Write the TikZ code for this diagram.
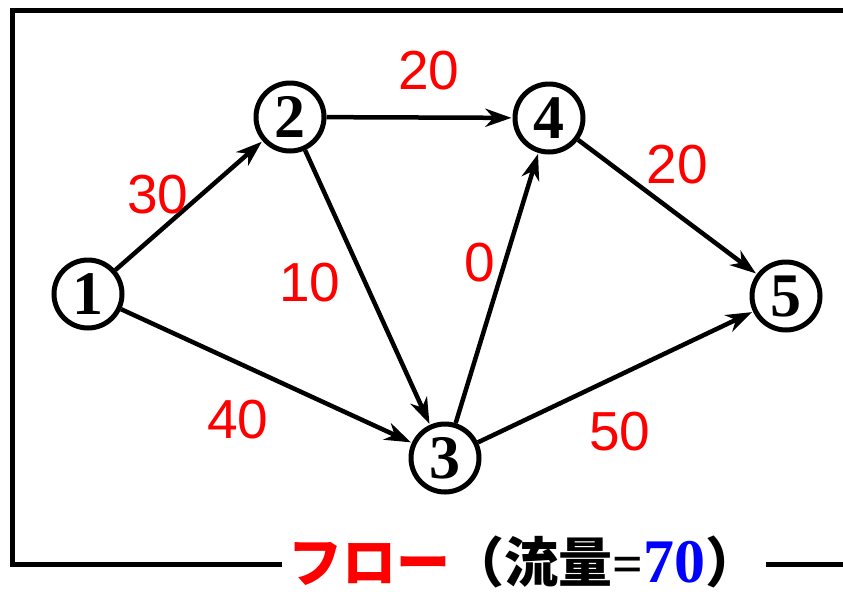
\documentclass[tikz,border=0pt]{standalone}
\usepackage{fontspec}
\setmainfont{Liberation Serif}
\setsansfont{Liberation Sans}
\newfontfamily\cjk{Noto Sans CJK JP}
\usetikzlibrary{arrows.meta}

\tikzset{
  vertex/.style={circle, draw, line width=5pt, minimum size=68pt, inner sep=0pt,
    font=\fontsize{62}{62}\selectfont\bfseries},
  arc/.style={line width=4.5pt, -{Stealth[length=26pt, width=18pt, inset=8pt]}, shorten >=1pt},
  flowlbl/.style={red, font=\sffamily\fontsize{55}{55}\selectfont},
}

\begin{document}
\begin{tikzpicture}[x=1pt, y=-1pt]
    \useasboundingbox (0,0) rectangle (843,595);

    % Nodes of the network
    \node[vertex] (n1) at (88,294) {1};
    \node[vertex] (n2) at (290,117) {2};
    \node[vertex] (n3) at (445,458) {3};
    \node[vertex] (n4) at (549,118) {4};
    \node[vertex] (n5) at (786,296) {5};

    % Arcs
    \draw[arc] (n1) -- (n2);
    \draw[arc] (n1) -- (n3);
    \draw[arc] (n2) -- (n4);
    \draw[arc] (n2) -- (n3);
    \draw[arc] (n3) -- (n4);
    \draw[arc] (n4) -- (n5);
    \draw[arc] (n3) -- (n5);

    % Flow values
    \node[flowlbl] (f12) at (158,195) {30};
    \node[flowlbl] (f13) at (238,420) {40};
    \node[flowlbl] (f24) at (429,71) {20};
    \node[flowlbl] (f23) at (310,283) {10};
    \node[flowlbl] (f34) at (480,263) {0};
    \node[flowlbl] (f45) at (677,165) {20};
    \node[flowlbl] (f35) at (620,432) {50};

    % Frame and caption
    \node[inner xsep=6pt, inner ysep=0pt] (flow) at (524,562)
      {\cjk\bfseries\fontsize{54}{54}\selectfont\textcolor{red}{フロー}（流量{\rmfamily=\fontsize{62}{62}\selectfont\color{blue}70}）};
    \draw[line width=5pt] (flow.west |- 0,564) -- (12,564) -- (12,10) -- (850,10);
    \draw[line width=5pt] (flow.east |- 0,564) -- (850,564);
\end{tikzpicture}
\end{document}
